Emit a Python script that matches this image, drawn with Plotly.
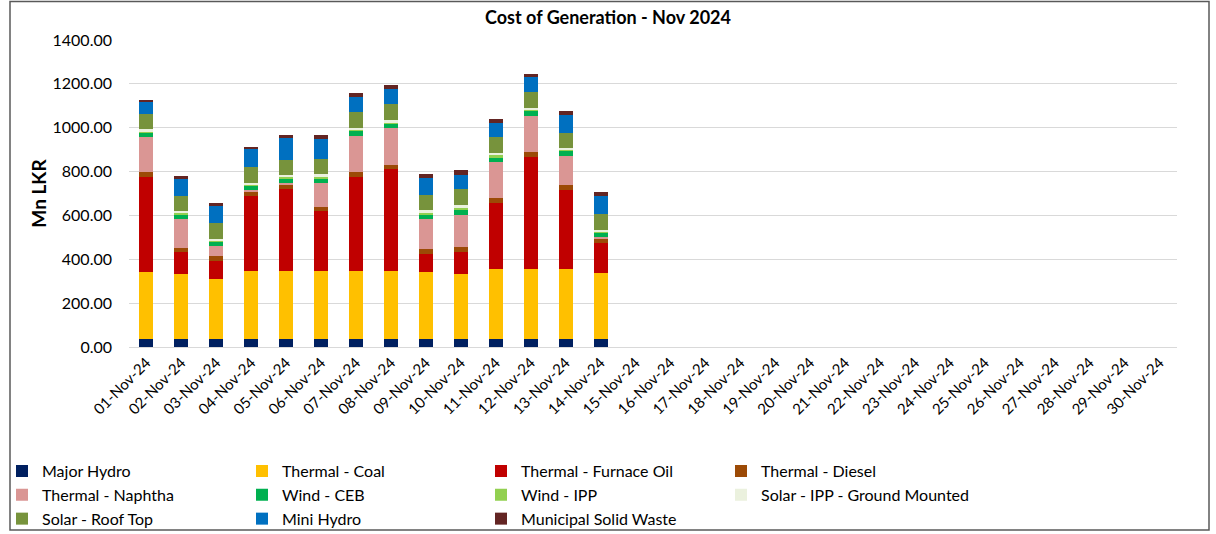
import plotly.graph_objects as go

dates = [f"{d:02d}-Nov-24" for d in range(1, 31)]

major_hydro = [36, 38, 38, 38, 38, 38, 38, 38, 38, 38, 38, 38, 38, 38]
coal = [307, 295, 271, 309, 309, 307, 309, 309, 304, 293, 318, 318, 318, 298]
furnace_oil = [434, 99, 85, 342, 372, 275, 430, 463, 84, 104, 299, 512, 361, 138]
diesel = [20, 21, 22, 21, 20, 20, 23, 21, 21, 21, 23, 23, 22, 22]
naphtha = [162, 131, 45, 6, 7, 108, 164, 166, 137, 144, 166, 164, 132, 4]
wind_ceb = [21, 21, 21, 21, 23, 21, 21, 21, 21, 23, 21, 23, 23, 21]
wind_ipp = [4, 5, 3, 3, 5, 5, 5, 8, 8, 12, 9, 3, 4, 3]
solar_ipp = [9, 10, 7, 9, 10, 15, 10, 9, 12, 14, 12, 7, 11, 10]
roof_top = [71, 69, 73, 70, 69, 68, 70, 72, 68, 70, 72, 73, 68, 71]
mini_hydro = [52, 76, 77, 82, 98, 90, 69, 70, 76, 67, 62, 70, 82, 82]
msw = [12, 13, 13, 12, 14, 18, 18, 19, 21, 23, 20, 14, 16, 18]

y_ticks = [0, 200, 400, 600, 800, 1000, 1200, 1400]

# (name, values, colour, legend column)
series = [
    ("Major Hydro", major_hydro, "#002060", "legend"),
    ("Thermal - Coal", coal, "#FFC000", "legend2"),
    ("Thermal - Furnace Oil", furnace_oil, "#C00000", "legend3"),
    ("Thermal - Diesel", diesel, "#9C4A06", "legend4"),
    ("Thermal - Naphtha", naphtha, "#DA9694", "legend"),
    ("Wind - CEB", wind_ceb, "#00B050", "legend2"),
    ("Wind - IPP", wind_ipp, "#92D050", "legend3"),
    ("Solar - IPP - Ground Mounted", solar_ipp, "#EBF1DE", "legend4"),
    ("Solar - Roof Top", roof_top, "#77933C", "legend"),
    ("Mini Hydro", mini_hydro, "#0070C0", "legend2"),
    ("Municipal Solid Waste", msw, "#632523", "legend3"),
]

FONT = "Lato, 'Open Sans', sans-serif"

fig = go.Figure()
for name, vals, color, leg in series:
    fig.add_trace(go.Bar(
        name=name,
        x=dates,
        y=vals + [None] * (len(dates) - len(vals)),
        marker=dict(color=color, line=dict(width=0)),
        legend=leg,
    ))

L, PW = 129, 1048
legend_px = [2, 242, 481, 721]
leg_y = -0.349


def legend_cfg(px):
    return dict(
        orientation="v",
        x=(px - L) / PW, xanchor="left",
        y=leg_y, yanchor="top",
        traceorder="normal",
        font=dict(family=FONT, size=16),
        bgcolor="rgba(0,0,0,0)",
        itemclick=False,
        tracegroupgap=0,
    )


fig.update_layout(
    barmode="stack",
    bargap=0.6,
    width=1216,
    height=534,
    margin=dict(l=L, r=39, t=40, b=187, autoexpand=False),
    paper_bgcolor="white",
    plot_bgcolor="white",
    font=dict(family=FONT, size=15, color="#000000"),
    title=dict(
        text="<b>Cost of Generation - Nov 2024</b>",
        x=0.5, xref="container", xanchor="center",
        y=0.966, yanchor="middle",
        font=dict(family=FONT, size=18, color="#000000"),
    ),
    xaxis=dict(
        type="category",
        categoryorder="array",
        categoryarray=dates,
        tickangle=-45,
        tickfont=dict(family=FONT, size=15),
        showgrid=False,
        showline=True,
        linecolor="#D9D9D9",
        linewidth=1,
        ticks="",
    ),
    yaxis=dict(
        range=[0, 1400],
        tickvals=y_ticks,
        tickformat=".2f",
        tickfont=dict(family=FONT, size=16),
        ticklabelstandoff=16,
        gridcolor="#D9D9D9",
        gridwidth=1,
        zeroline=False,
        showline=False,
        ticks="",
        ticklen=0,
        title=dict(text="<b>Mn LKR</b>", font=dict(family=FONT, size=19), standoff=0),
    ),
    legend=legend_cfg(legend_px[0]),
    legend2=legend_cfg(legend_px[1]),
    legend3=legend_cfg(legend_px[2]),
    legend4=legend_cfg(legend_px[3]),
    shapes=[dict(
        type="rect", xref="paper", yref="paper",
        x0=(10 - L) / PW, x1=(1209 - L) / PW,
        y0=(347 - 530) / 307, y1=(347 - 1.5) / 307,
        line=dict(color="#595959", width=1.5),
        fillcolor="rgba(0,0,0,0)",
        layer="above",
    )],
)

fig.write_html(
    "out.html",
    config={"displayModeBar": False},
    post_script="document.body.style.margin='0';",
)
